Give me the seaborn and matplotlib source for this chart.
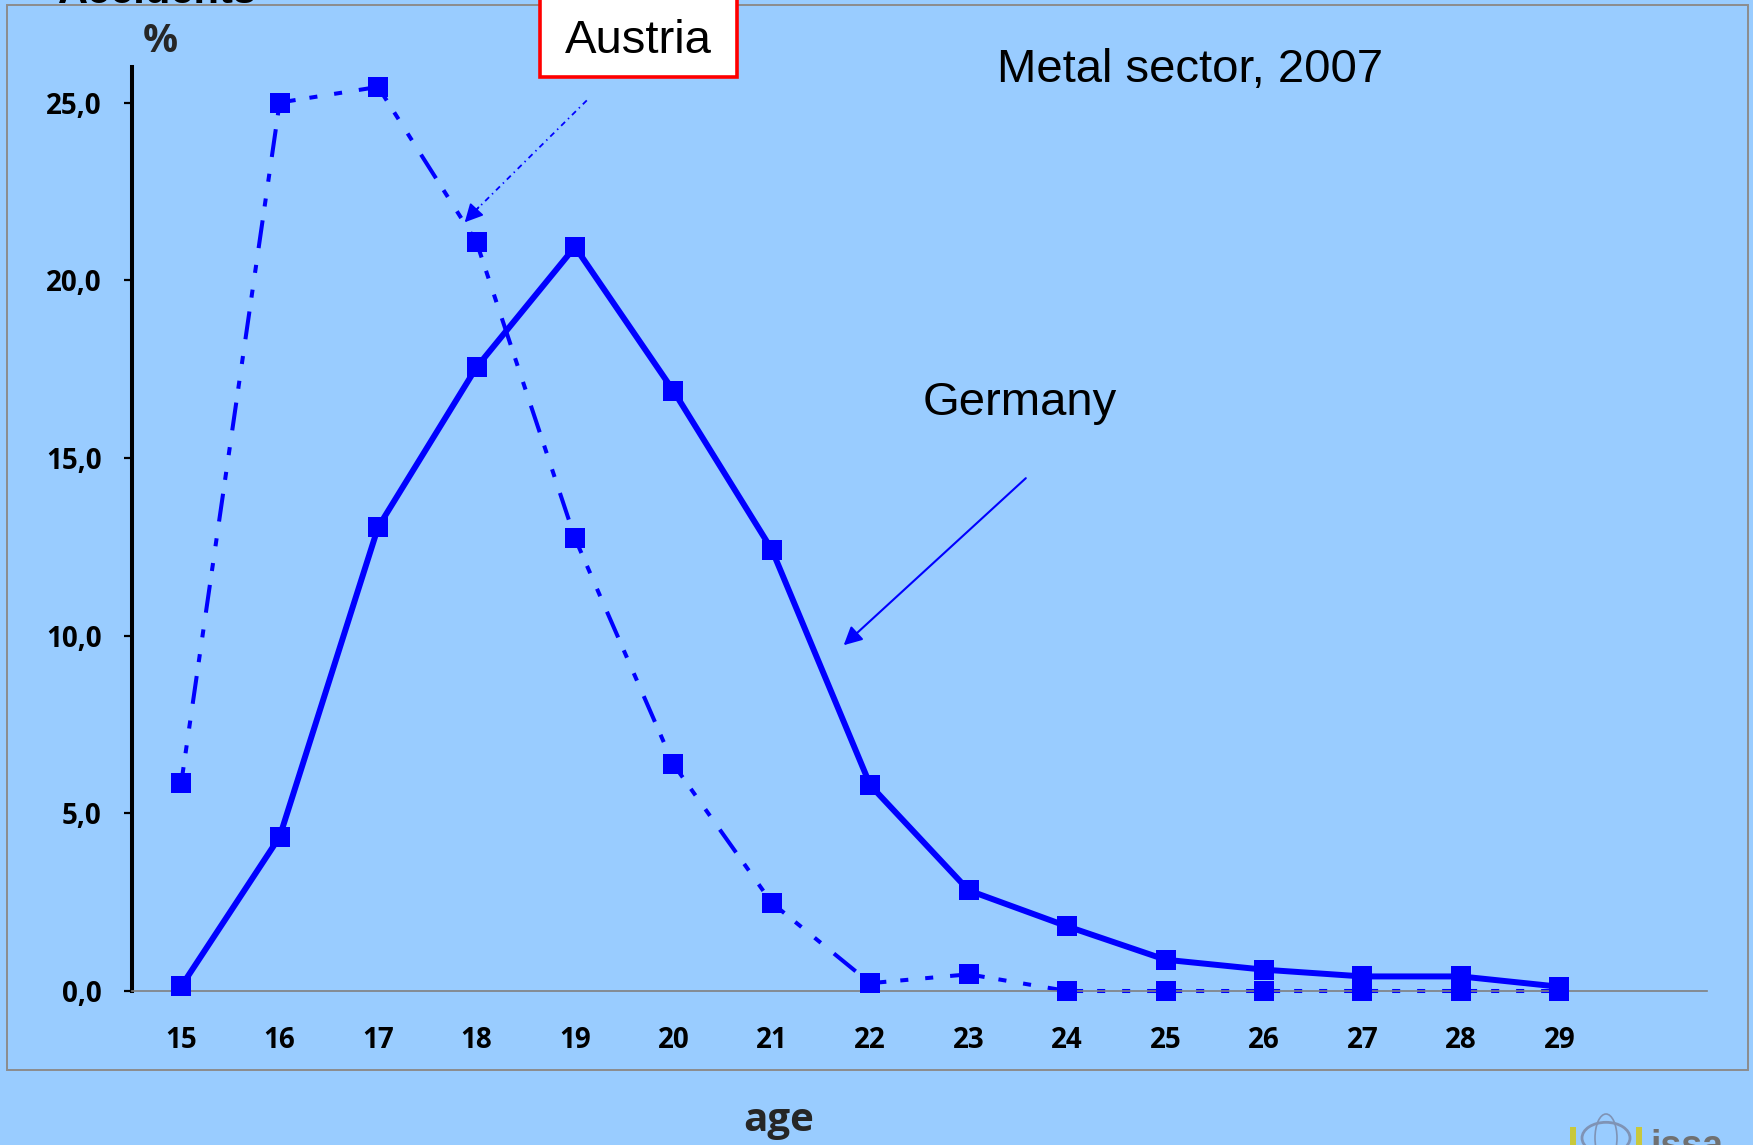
import matplotlib
matplotlib.use("Agg")
import matplotlib.pyplot as plt
from matplotlib.patches import Rectangle, Circle, Ellipse
import pandas as pd
import seaborn as sns

# Share of accidents by age, metal sector 2007 (%)
ages = list(range(15, 30))
germany = [0.13, 4.34, 13.05, 17.55, 20.94, 16.89, 12.42, 5.79, 2.83, 1.82,
           0.88, 0.60, 0.41, 0.41, 0.12]
austria = [5.85, 25.00, 25.44, 21.07, 12.74, 6.38, 2.48, 0.22, 0.47, 0.0,
           0.0, 0.0, 0.0, 0.0, 0.0]
y_ticks = [0, 5, 10, 15, 20, 25]
y_tick_labels = ["0,0", "5,0", "10,0", "15,0", "20,0", "25,0"]

BG = "#99CCFF"
BLUE = "#0000FF"

sns.set_theme(style="white", rc={"axes.facecolor": BG, "figure.facecolor": BG})
plt.rcParams["lines.scale_dashes"] = False
plt.rcParams["font.family"] = ["Liberation Sans", "DejaVu Sans"]

W, H = 1753, 1145
fig = plt.figure(figsize=(W / 100, H / 100), dpi=100)


def fx(px):
    return px / W


def fy(py):
    return 1 - py / H


# outer frame of the chart area
fig.patches.append(Rectangle((fx(7), fy(1070)), fx(1748) - fx(7), fy(5) - fy(1070),
                             transform=fig.transFigure, fill=False,
                             edgecolor="#8C8C8C", linewidth=1.4, zorder=0.5))

ax = fig.add_axes([fx(132), fy(991), fx(1707) - fx(132), fy(67) - fy(991)])
ax.set_facecolor(BG)

df = pd.DataFrame({"age": ages, "Germany": germany, "Austria": austria})

# Germany: solid line with square markers
sns.lineplot(data=df, x="age", y="Germany", ax=ax, color=BLUE, linewidth=4.3,
             marker="s", markersize=15, markeredgewidth=0, zorder=3, clip_on=False)

# Austria: long-dash-dot-dot, pattern restarting at every vertex
austria_ls = (8.6, (20.2, 10.1, 5.8, 12.2, 5.8, 12.2))
for i in range(len(ages) - 1):
    ax.plot(df["age"].iloc[i:i + 2], df["Austria"].iloc[i:i + 2], color=BLUE,
            linewidth=2.9, linestyle=austria_ls, zorder=2, clip_on=False)
sns.scatterplot(data=df, x="age", y="Austria", ax=ax, marker="s", s=15 ** 2,
                color=BLUE, edgecolor=BLUE, linewidth=0, zorder=4, clip_on=False)

ax.set_xlim(14.5, 30.5)
ax.set_ylim(0, 26)
ax.set_xticks(ages)
ax.set_xticklabels([str(a) for a in ages])
ax.set_yticks(y_ticks)
ax.set_yticklabels(y_tick_labels)
ax.set_xlabel("")
ax.set_ylabel("")

for side in ("top", "right"):
    ax.spines[side].set_visible(False)
ax.spines["left"].set_color("black")
ax.spines["left"].set_linewidth(2.9)
ax.spines["bottom"].set_color("#808080")
ax.spines["bottom"].set_linewidth(1.2)

tick_font = dict(family=["Open Sans", "DejaVu Sans"], weight="bold", size=20)
ax.tick_params(axis="y", direction="out", length=6, width=1.6, color="black",
               left=True, pad=16)
ax.tick_params(axis="x", length=0, pad=25)
for lab in ax.get_xticklabels() + ax.get_yticklabels():
    lab.set_fontfamily(tick_font["family"])
    lab.set_fontweight("bold")
    lab.set_fontsize(20)
    lab.set_color("black")

# arrows pointing at the two series
ax.plot([19.12, 17.95], [25.06, 21.85], color=BLUE, linewidth=1.3,
        linestyle=(0, (4, 3, 1, 3)), zorder=5)
ax.annotate("", xy=(17.88, 21.63), xytext=(18.02, 22.05),
            arrowprops=dict(arrowstyle="-|>,head_length=0.55,head_width=0.28",
                            color=BLUE, lw=1.3, mutation_scale=20,
                            shrinkA=0, shrinkB=0), zorder=5)
ax.annotate("", xy=(21.73, 9.73), xytext=(23.58, 14.43),
            arrowprops=dict(arrowstyle="-|>,head_length=0.55,head_width=0.28",
                            color=BLUE, lw=1.5, mutation_scale=20,
                            shrinkA=0, shrinkB=0), zorder=5)

# labels and titles
fig.text(fx(158), fy(3), "Accidents", ha="center", va="baseline", fontsize=30,
         fontweight="bold", color="black")
fig.text(fx(160), fy(52), "%", ha="center", va="baseline", fontsize=28,
         fontweight="bold", family=["Open Sans", "DejaVu Sans"])
fig.text(fx(779), fy(1131), "age", ha="center", va="baseline", fontsize=29,
         fontweight="bold", family=["Open Sans", "DejaVu Sans"])

fig.patches.append(Rectangle((fx(540), fy(77)), fx(737) - fx(540), fy(-30) - fy(77),
                             transform=fig.transFigure, facecolor="white",
                             edgecolor="#FF0000", linewidth=2.6, zorder=6))
fig.text(fx(638), fy(53), "Austria", ha="center", va="baseline", fontsize=34,
         color="black", zorder=7)
fig.text(fx(997), fy(82), "Metal sector, 2007", ha="left", va="baseline",
         fontsize=34, color="black")
fig.text(fx(923), fy(415), "Germany", ha="left", va="baseline", fontsize=34,
         color="black")

# partially visible logo in the lower right corner
fig.patches.append(Circle((fx(1606), fy(1138)), 24 / W, transform=fig.transFigure,
                          fill=False, edgecolor="#7F93B5", linewidth=2.0, zorder=3))
fig.patches.append(Ellipse((fx(1606), fy(1138)), 22 / W, 48 / H,
                           transform=fig.transFigure, fill=False,
                           edgecolor="#7F93B5", linewidth=1.2, zorder=3))
for x0 in (1573, 1639):
    fig.patches.append(Rectangle((fx(x0 - 3), fy(1145)), 6 / W, 18 / H,
                                 transform=fig.transFigure, facecolor="#C8C83C",
                                 edgecolor="none", zorder=3))
fig.text(fx(1650), fy(1157), "issa", ha="left", va="baseline", fontsize=27,
         fontweight="bold", color="#707070")

fig.savefig("out.png", dpi=100, facecolor=BG)
